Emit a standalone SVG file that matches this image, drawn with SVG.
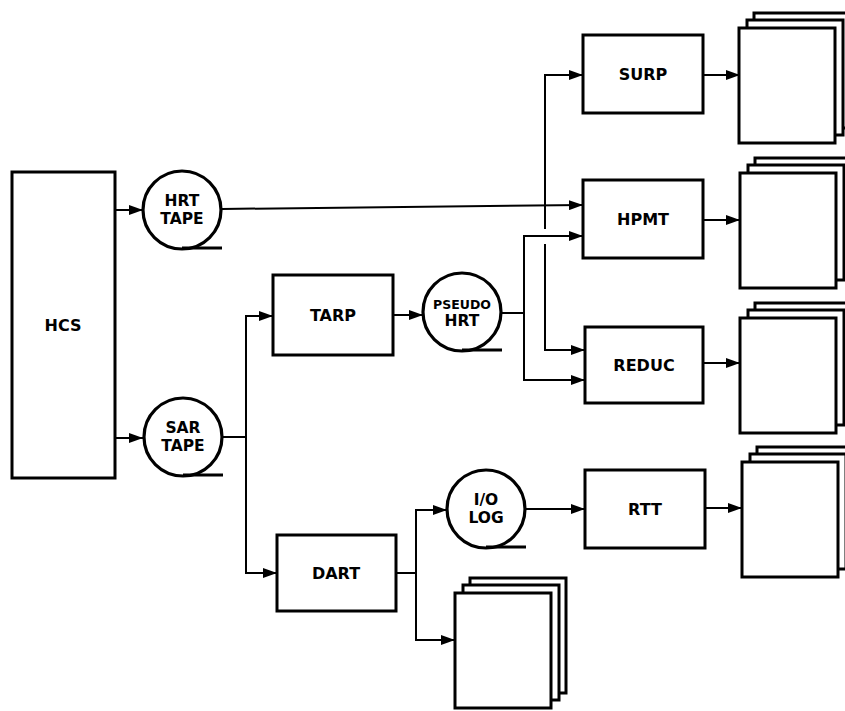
<svg xmlns="http://www.w3.org/2000/svg" width="845" height="711" viewBox="0 0 845 711">
<style>
.box{fill:#fff;stroke:#000;stroke-width:3}
.tape{fill:#fff;stroke:#000;stroke-width:3.2}
.tail{stroke:#000;stroke-width:3.2;fill:none}
.pg{fill:#fff;stroke:#000;stroke-width:3}
.c{fill:none;stroke:#000;stroke-width:2}
.t{font-family:"DejaVu Sans",sans-serif;font-weight:bold;font-size:16px;text-anchor:middle;fill:#000}
.ts{font-family:"DejaVu Sans",sans-serif;font-weight:bold;font-size:15.5px;text-anchor:middle;fill:#000}
.tx{font-family:"DejaVu Sans",sans-serif;font-weight:bold;font-size:12.5px;text-anchor:middle;fill:#000}
</style>
<defs>
<marker id="ah" viewBox="0 0 14 10" refX="14" refY="5" markerWidth="14" markerHeight="10" orient="auto" markerUnits="userSpaceOnUse"><path d="M0,0 L14,5 L0,10 z" fill="#000"/></marker>
<g id="stack">
<rect class="pg" x="15" y="-15" width="96" height="115"/>
<rect class="pg" x="8" y="-8" width="96" height="115"/>
<rect class="pg" x="0" y="0" width="96" height="115"/>
</g>
</defs>
<rect width="845" height="711" fill="#fff"/>

<g id="connectors">
<path class="c" d="M115,210 H143" marker-end="url(#ah)"/>
<path class="c" d="M115,438 H143" marker-end="url(#ah)"/>
<path class="c" d="M222,209 L583,205" marker-end="url(#ah)"/>
<path class="c" d="M222,437 H246 V316 H273" marker-end="url(#ah)"/>
<path class="c" d="M246,437 V573 H277" marker-end="url(#ah)"/>
<path class="c" d="M393,315 H423" marker-end="url(#ah)"/>
<path class="c" d="M501,313 H524 V236 H583" marker-end="url(#ah)"/>
<path class="c" d="M524,313 V380 H585" marker-end="url(#ah)"/>
<path class="c" d="M545,207 V75 H583" marker-end="url(#ah)"/>
<path class="c" d="M545,207 V229 M545,244 V350 H585" marker-end="url(#ah)"/>
<path class="c" d="M703,75 H740" marker-end="url(#ah)"/>
<path class="c" d="M703,220 H740" marker-end="url(#ah)"/>
<path class="c" d="M703,363 H740" marker-end="url(#ah)"/>
<path class="c" d="M396,573 H416 V510 H447" marker-end="url(#ah)"/>
<path class="c" d="M416,573 V640 H455" marker-end="url(#ah)"/>
<path class="c" d="M525,509 H585" marker-end="url(#ah)"/>
<path class="c" d="M705,508 H742" marker-end="url(#ah)"/>
</g>

<g id="hcs"><rect class="box" x="12" y="172" width="103" height="306"/><text class="t" x="63" y="331">HCS</text></g>

<g id="hrt-tape"><circle class="tape" cx="182" cy="210" r="39"/><line class="tail" x1="182" y1="248" x2="222" y2="248"/><text class="ts" x="182" y="206">HRT</text><text class="ts" x="182" y="224">TAPE</text></g>

<g id="sar-tape"><circle class="tape" cx="183" cy="437" r="39"/><line class="tail" x1="183" y1="475" x2="223" y2="475"/><text class="ts" x="183" y="433">SAR</text><text class="ts" x="183" y="451">TAPE</text></g>

<g id="tarp"><rect class="box" x="273" y="275" width="120" height="80"/><text class="t" x="333" y="321">TARP</text></g>

<g id="pseudo-hrt"><circle class="tape" cx="462" cy="312" r="39"/><line class="tail" x1="462" y1="350" x2="502" y2="350"/><text class="tx" x="462" y="309">PSEUDO</text><text class="ts" x="462" y="326">HRT</text></g>

<g id="dart"><rect class="box" x="277" y="535" width="119" height="76"/><text class="t" x="336" y="579">DART</text></g>

<g id="io-log"><circle class="tape" cx="486" cy="509" r="39"/><line class="tail" x1="486" y1="547" x2="526" y2="547"/><text class="ts" x="486" y="505">I/O</text><text class="ts" x="486" y="523">LOG</text></g>

<g id="surp"><rect class="box" x="583" y="35" width="120" height="78"/><text class="t" x="643" y="80">SURP</text></g>
<g id="hpmt"><rect class="box" x="583" y="180" width="120" height="78"/><text class="t" x="643" y="225">HPMT</text></g>
<g id="reduc"><rect class="box" x="585" y="327" width="118" height="76"/><text class="t" x="644" y="371">REDUC</text></g>
<g id="rtt"><rect class="box" x="585" y="470" width="120" height="78"/><text class="t" x="645" y="515">RTT</text></g>

<g id="doc-surp"><use href="#stack" x="739" y="28"/></g>
<g id="doc-hpmt"><use href="#stack" x="740" y="173"/></g>
<g id="doc-reduc"><use href="#stack" x="740" y="318"/></g>
<g id="doc-rtt"><use href="#stack" x="742" y="462"/></g>
<g id="doc-dart"><use href="#stack" x="455" y="593"/></g>
</svg>
